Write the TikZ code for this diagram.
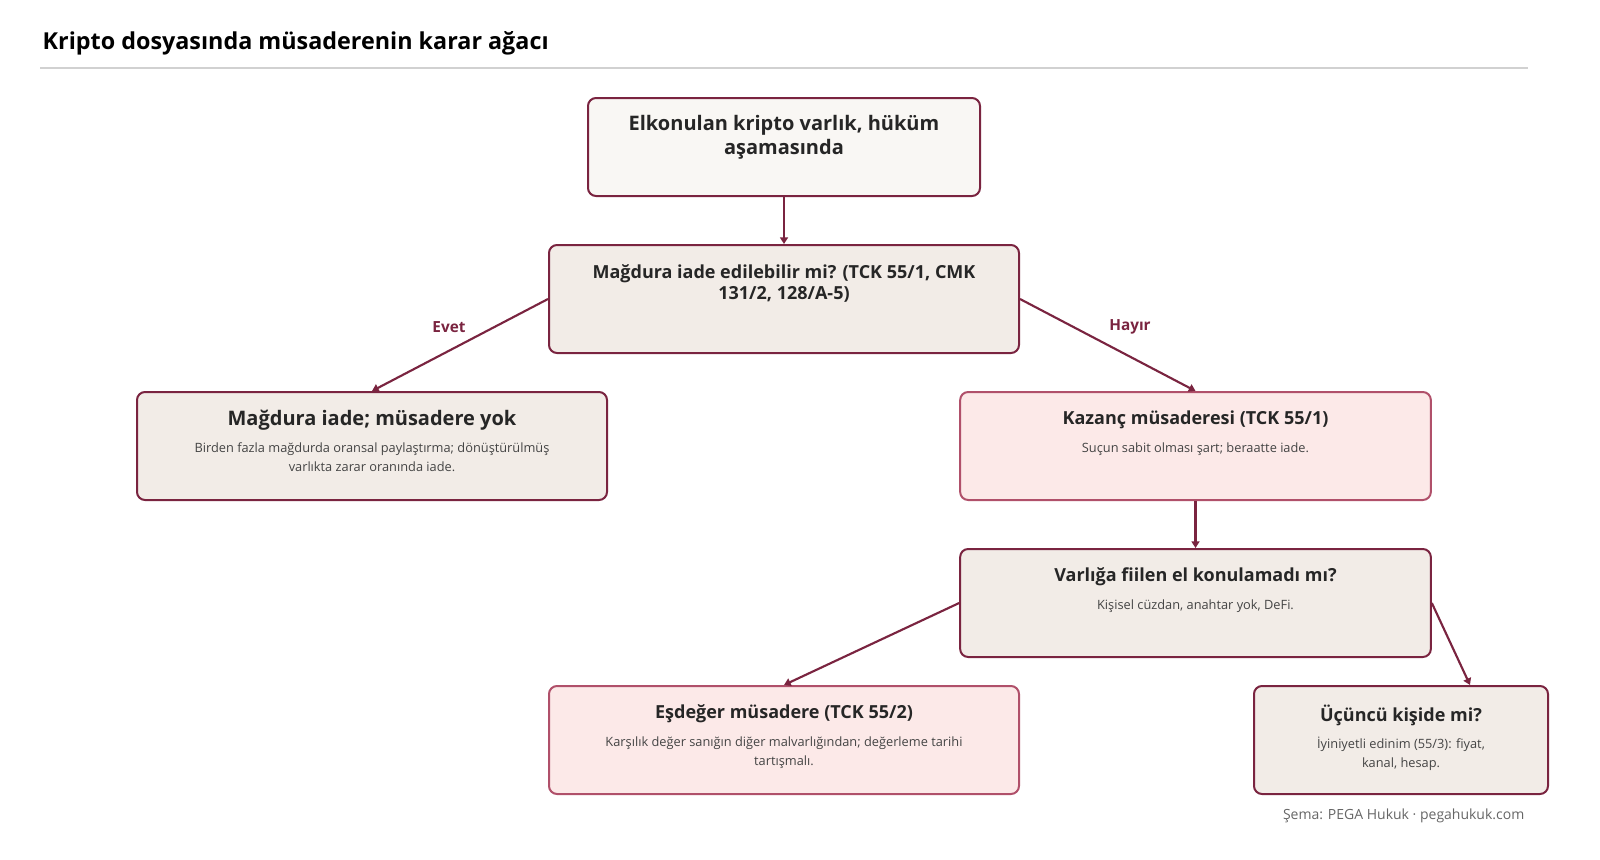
\documentclass[tikz,border=0pt]{standalone}
\usepackage{fontspec}
\setmainfont{Open Sans}
\usetikzlibrary{arrows.meta,positioning,calc}
\definecolor{maroon}{HTML}{7A2440}
\definecolor{rose}{HTML}{B0506A}
\definecolor{cream}{HTML}{F9F7F4}
\definecolor{sand}{HTML}{F2ECE7}
\definecolor{blush}{HTML}{FCE9E8}
\definecolor{note}{HTML}{444444}

\tikzset{
  box/.style={draw=maroon, line width=1.5pt, rounded corners=6pt, fill=sand, inner sep=0pt},
  pink/.style={box, draw=rose, fill=blush},
  head/.style={font=\bfseries\fontsize{13.5}{16}\selectfont, text=black!85, align=center, anchor=north},
  sub/.style={font=\fontsize{9.6}{14.5}\selectfont, text=note, align=center, anchor=north},
  link/.style={draw=maroon, line width=1.6pt, -{Triangle[length=5pt,width=6pt]}},
  tag/.style={font=\bfseries\fontsize{11.5}{13}\selectfont, text=maroon}
}

\begin{document}
\begin{tikzpicture}[x=0.75pt, y=-0.75pt]
	% Title
	\node [anchor=west, font=\bfseries\fontsize{17.5}{20}\selectfont] (title) at (38,43) {Kripto dosyasında müsaderenin karar ağacı};
	\draw [black!18, line width=1pt] (40,68) -- (1528,68);

	% Boxes
	\node [box, fill=cream, minimum width=294pt, minimum height=73.5pt] (start) at (784,147) {};
	\node [box, minimum width=352.5pt, minimum height=81pt] (iade) at (784,299) {};
	\node [box, minimum width=352.5pt, minimum height=81pt] (magdur) at (372,446) {};
	\node [pink, minimum width=353pt, minimum height=81pt] (kazanc) at (1195.5,446) {};
	\node [box, minimum width=353pt, minimum height=81pt] (fiilen) at (1195.5,603) {};
	\node [pink, minimum width=352.5pt, minimum height=81pt] (esdeger) at (784,740) {};
	\node [box, minimum width=220.5pt, minimum height=81pt] (ucuncu) at (1401,740) {};

	% Texts
	\node [head, font=\bfseries\fontsize{15}{17.5}\selectfont] at ($(start.north)+(0,14)$) {Elkonulan kripto varlık, hüküm\\aşamasında};
	\node [head] at ($(iade.north)+(0,16)$) {Mağdura iade edilebilir mi? (TCK 55/1, CMK\\131/2, 128/A-5)};
	\node [head, font=\bfseries\fontsize{15}{17.5}\selectfont] at ($(magdur.north)+(0,14)$) {Mağdura iade; müsadere yok};
	\node [sub] at ($(magdur.north)+(0,47)$) {Birden fazla mağdurda oransal paylaştırma; dönüştürülmüş\\varlıkta zarar oranında iade.};
	\node [head] at ($(kazanc.north)+(0,15)$) {Kazanç müsaderesi (TCK 55/1)};
	\node [sub] at ($(kazanc.north)+(0,47)$) {Suçun sabit olması şart; beraatte iade.};
	\node [head] at ($(fiilen.north)+(0,15)$) {Varlığa fiilen el konulamadı mı?};
	\node [sub] at ($(fiilen.north)+(0,47)$) {Kişisel cüzdan, anahtar yok, DeFi.};
	\node [head] at ($(esdeger.north)+(0,15)$) {Eşdeğer müsadere (TCK 55/2)};
	\node [sub] at ($(esdeger.north)+(0,47)$) {Karşılık değer sanığın diğer malvarlığından; değerleme tarihi\\tartışmalı.};
	\node [head] at ($(ucuncu.north)+(0,15)$) {Üçüncü kişide mi?};
	\node [sub] at ($(ucuncu.north)+(0,47)$) {İyiniyetli edinim (55/3): fiyat,\\kanal, hesap.};

	% Links
	\coordinate (ucuin) at ($(ucuncu.north)+(69,0)$);
	\path [link] (start) -- (iade);
	\path [link] (iade.west) -- (magdur.north);
	\path [link] (iade.east) -- (kazanc.north);
	\path [link] (kazanc) -- (fiilen);
	\path [link] (fiilen.west) -- (esdeger.north);
	\path [link] (fiilen.east) -- (ucuin);
	\node [tag] (evet) at (449,327) {Evet};
	\node [tag] (hayir) at (1130,327) {Hayır};

	% Footer
	\node [anchor=east, font=\fontsize{10.5}{12}\selectfont, text=black!60] (credit) at (1529,816) {Şema: PEGA Hukuk · pegahukuk.com};

	\pgfresetboundingbox
	\useasboundingbox (0,0) rectangle (1600,860);
\end{tikzpicture}
\end{document}
